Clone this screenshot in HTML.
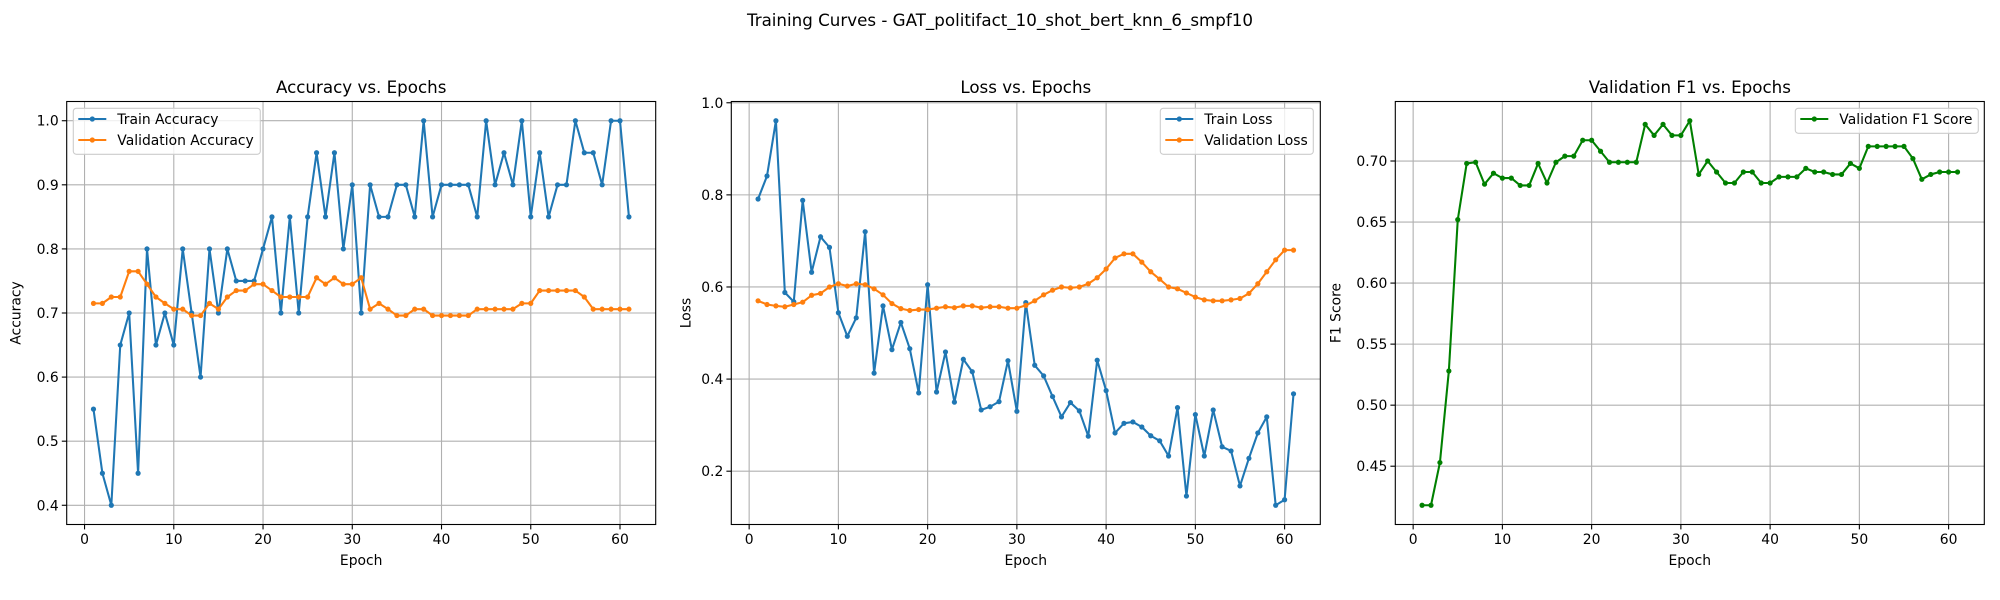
<!DOCTYPE html>
<html><head><meta charset="utf-8"><style>
html,body{margin:0;padding:0;background:#fff;}
svg{display:block;font-family:"DejaVu Sans","Liberation Sans",sans-serif;}
</style></head><body>
<svg id="fig" width="2000" height="600" viewBox="0 0 2000 600" xmlns="http://www.w3.org/2000/svg">
<rect width="2000" height="600" fill="#fff"/>
<text x="1000" y="26" text-anchor="middle" font-size="16.7" fill="#000">Training Curves - GAT_politifact_10_shot_bert_knn_6_smpf10</text>
</svg>
<script>
const epochs = Array.from({length:61},(_, i)=>i+1);
const trainAcc = [0.55,0.45,0.40,0.65,0.70,0.45,0.80,0.65,0.70,0.65,0.80,0.70,0.60,0.80,0.70,0.80,0.75,0.75,0.75,0.80,0.85,0.70,0.85,0.70,0.85,0.95,0.85,0.95,0.80,0.90,0.70,0.90,0.85,0.85,0.90,0.90,0.85,1.0,0.85,0.90,0.90,0.90,0.90,0.85,1.0,0.90,0.95,0.90,1.0,0.85,0.95,0.85,0.90,0.90,1.0,0.95,0.95,0.90,1.0,1.0,0.85];
const valAcc = [0.715,0.715,0.725,0.725,0.765,0.765,0.745,0.725,0.715,0.706,0.706,0.696,0.696,0.715,0.706,0.725,0.735,0.735,0.745,0.745,0.735,0.725,0.725,0.725,0.725,0.755,0.745,0.755,0.745,0.745,0.755,0.706,0.715,0.706,0.696,0.696,0.706,0.706,0.696,0.696,0.696,0.696,0.696,0.706,0.706,0.706,0.706,0.706,0.715,0.715,0.735,0.735,0.735,0.735,0.735,0.725,0.706,0.706,0.706,0.706,0.706];
const trainLoss = [0.791,0.841,0.961,0.588,0.568,0.788,0.632,0.709,0.686,0.544,0.493,0.533,0.720,0.413,0.559,0.464,0.523,0.466,0.370,0.605,0.372,0.459,0.350,0.443,0.416,0.333,0.340,0.351,0.440,0.330,0.566,0.430,0.407,0.362,0.318,0.349,0.331,0.276,0.441,0.375,0.283,0.304,0.307,0.296,0.277,0.266,0.233,0.338,0.146,0.323,0.233,0.333,0.253,0.244,0.168,0.228,0.283,0.318,0.126,0.138,0.368];
const valLoss = [0.570,0.562,0.559,0.557,0.562,0.567,0.582,0.586,0.600,0.607,0.602,0.607,0.605,0.596,0.583,0.564,0.553,0.549,0.551,0.551,0.554,0.557,0.555,0.559,0.559,0.555,0.557,0.557,0.554,0.554,0.560,0.570,0.583,0.593,0.600,0.598,0.600,0.607,0.620,0.639,0.663,0.672,0.672,0.654,0.633,0.617,0.600,0.596,0.587,0.578,0.572,0.570,0.570,0.572,0.575,0.586,0.607,0.633,0.659,0.680,0.680];
const valF1 = [0.418,0.418,0.453,0.528,0.652,0.698,0.699,0.681,0.690,0.686,0.686,0.680,0.680,0.698,0.682,0.699,0.704,0.704,0.717,0.717,0.708,0.699,0.699,0.699,0.699,0.730,0.721,0.730,0.721,0.721,0.733,0.689,0.700,0.691,0.682,0.682,0.691,0.691,0.682,0.682,0.687,0.687,0.687,0.694,0.691,0.691,0.689,0.689,0.698,0.694,0.712,0.712,0.712,0.712,0.712,0.702,0.685,0.689,0.691,0.691,0.691];
const xTicks = [0,10,20,30,40,50,60];
const accTicks = [0.4,0.5,0.6,0.7,0.8,0.9,1.0];
const accTickLabels = ["0.4","0.5","0.6","0.7","0.8","0.9","1.0"];
const lossTicks = [0.2,0.4,0.6,0.8,1.0];
const lossTickLabels = ["0.2","0.4","0.6","0.8","1.0"];
const f1Ticks = [0.45,0.50,0.55,0.60,0.65,0.70];
const f1TickLabels = ["0.45","0.50","0.55","0.60","0.65","0.70"];

const NS="http://www.w3.org/2000/svg";
const svg=document.getElementById('fig');
function mk(tag,attrs,parent,txt){const e=document.createElementNS(NS,tag);for(const k in attrs)e.setAttribute(k,attrs[k]);if(txt!==undefined)e.textContent=txt;(parent||svg).appendChild(e);return e;}

function panel(cfg){
  const L=cfg.left,T=101.5,W=589,H=423;
  const g=mk('g',{});
  
  
  const all=[].concat(...cfg.series.map(s=>s.data));
  let mn=Math.min(...all),mx=Math.max(...all),pad=(mx-mn)*0.05;
  const y0=mn-pad,y1=mx+pad;
  const xmin=Math.min(...epochs),xmax=Math.max(...epochs),xp=(xmax-xmin)*0.05;
  const xa=xmin-xp,xb=xmax+xp;
  const sx=v=>L+(v-xa)/(xb-xa)*W;
  const sy=v=>T+H-(v-y0)/(y1-y0)*H;
  xTicks.forEach(t=>{
    const x=sx(t);
    const gl=mk('line',{x1:x,x2:x,y1:T,y2:T+H,stroke:'#b0b0b0','stroke-width':1.1},g);
    
    
    mk('line',{x1:x,x2:x,y1:T+H,y2:T+H+4.9,stroke:'#000','stroke-width':1.1},g);
    const tl=mk('text',{x:x,y:T+H+19.5,'text-anchor':'middle','font-size':13.9,fill:'#000'},g,String(t));
    
    
  });
  cfg.ticks.forEach((t,i)=>{
    const y=sy(t);
    const gl=mk('line',{x1:L,x2:L+W,y1:y,y2:y,stroke:'#b0b0b0','stroke-width':1.1},g);
    
    
    mk('line',{x1:L-4.9,x2:L,y1:y,y2:y,stroke:'#000','stroke-width':1.1},g);
    const tl=mk('text',{x:L-8,y:y+5,'text-anchor':'end','font-size':13.9,fill:'#000'},g,cfg.tickLabels[i]);
    
    
  });
  const clipId='clip-'+cfg.name;
  const cp=mk('clipPath',{id:clipId},g);mk('rect',{x:L,y:T,width:W,height:H},cp);
  cfg.series.forEach(s=>{
    const sg=mk('g',{'clip-path':'url(#'+clipId+')'},g);
    
    
    const pts=s.data.map((v,i)=>sx(epochs[i]).toFixed(2)+','+sy(v).toFixed(2)).join(' ');
    const pl=mk('polyline',{points:pts,fill:'none',stroke:s.color,'stroke-width':2.08,'stroke-linejoin':'round','stroke-linecap':'square'},sg);
    
    
    s.data.forEach((v,i)=>{
      const c=mk('circle',{cx:sx(epochs[i]),cy:sy(v),r:2.6,fill:s.color},sg);
      
      
    });
  });
  const fr=mk('rect',{x:L,y:T,width:W,height:H,fill:'none',stroke:'#000','stroke-width':1.1},g);
  
  
  const tt=mk('text',{x:L+W/2,y:93,'text-anchor':'middle','font-size':16.7,fill:'#000'},g,cfg.title);
  
  
  const xl=mk('text',{x:L+W/2,y:565,'text-anchor':'middle','font-size':13.9,fill:'#000'},g,'Epoch');
  
  
  const yx=L-cfg.ylabOff;
  const yl=mk('text',{x:yx,y:T+H/2,'text-anchor':'middle','font-size':13.9,fill:'#000',transform:'rotate(-90 '+yx+' '+(T+H/2)+')'},g,cfg.ylabel);
  
  
  const lg=mk('g',{},g);
  
  
  const lx=cfg.legend.x, lw=cfg.legend.w, lh=cfg.series.length*21+4;
  mk('rect',{x:lx,y:108.3,width:lw,height:lh,rx:3,fill:'#fff','fill-opacity':0.8,stroke:'#ccc','stroke-width':1.1},lg);
  cfg.series.forEach((s,i)=>{
    const ey=119+i*21;
    const en=mk('g',{},lg);
    
    
    mk('line',{x1:lx+5,x2:lx+33,y1:ey,y2:ey,stroke:s.color,'stroke-width':2.08},en);
    mk('circle',{cx:lx+19,cy:ey,r:2.6,fill:s.color},en);
    mk('text',{x:lx+44,y:ey+5,'font-size':13.9,fill:'#000'},en,s.label);
  });
}

panel({name:'accuracy',left:66.7,title:'Accuracy vs. Epochs',ylabel:'Accuracy',ylabOff:46,ticks:accTicks,tickLabels:accTickLabels,
  legend:{x:73.3,w:187},
  series:[{id:'train-accuracy',label:'Train Accuracy',color:'#1f77b4',data:trainAcc},{id:'validation-accuracy',label:'Validation Accuracy',color:'#ff7f0e',data:valAcc}]});
panel({name:'loss',left:731.3,title:'Loss vs. Epochs',ylabel:'Loss',ylabOff:41,ticks:lossTicks,tickLabels:lossTickLabels,
  legend:{x:1160.3,w:153},
  series:[{id:'train-loss',label:'Train Loss',color:'#1f77b4',data:trainLoss},{id:'validation-loss',label:'Validation Loss',color:'#ff7f0e',data:valLoss}]});
panel({name:'f1',left:1395.3,title:'Validation F1 vs. Epochs',ylabel:'F1 Score',ylabOff:55,ticks:f1Ticks,tickLabels:f1TickLabels,
  legend:{x:1795.3,w:183},
  series:[{id:'validation-f1',label:'Validation F1 Score',color:'#008000',data:valF1}]});
</script>
</body></html>
